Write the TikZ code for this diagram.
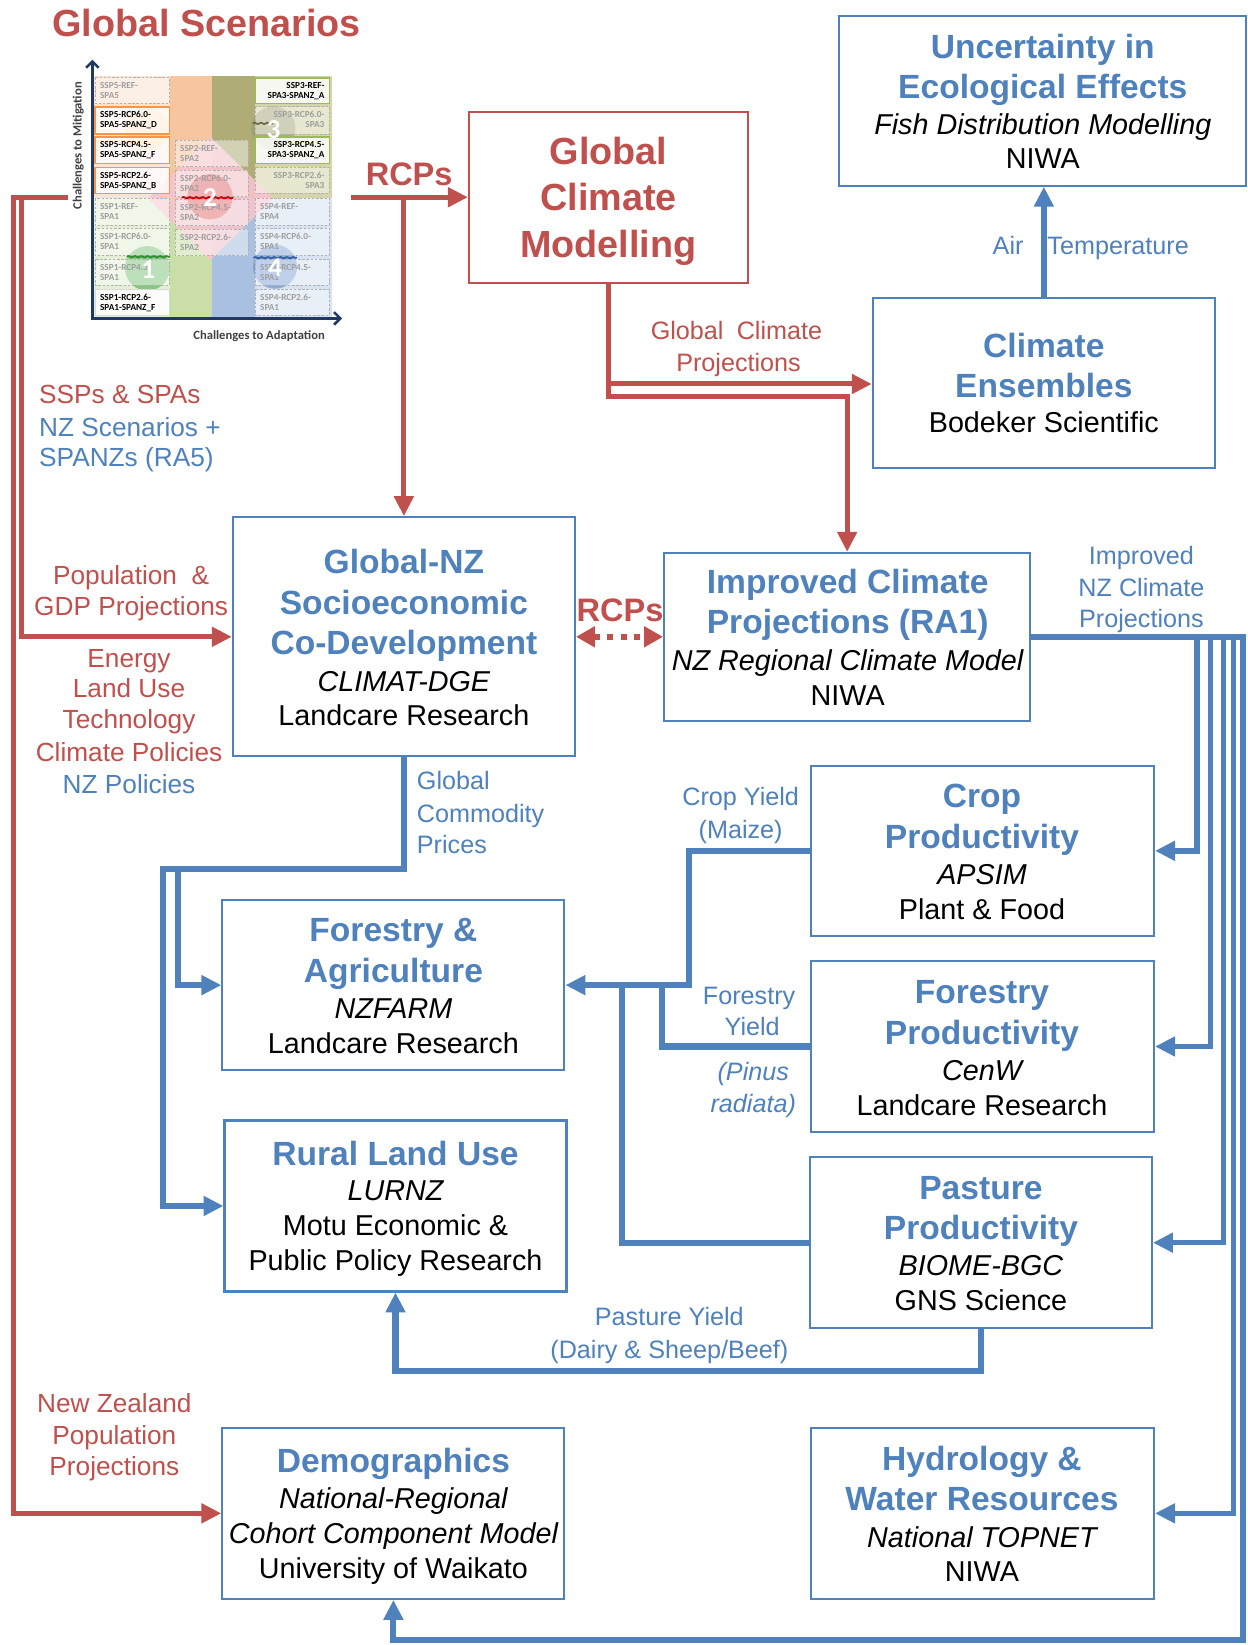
\documentclass[tikz,border=0pt]{standalone}
\usepackage{fontspec}
\setmainfont{Liberation Sans}
\newfontfamily\calib{Carlito}
\usetikzlibrary{arrows.meta,fit,decorations.pathmorphing}
\definecolor{nzb}{HTML}{4F81BD}
\definecolor{nzr}{HTML}{C0504D}
\definecolor{mpeach}{HTML}{FBE3D2}
\definecolor{morng}{HTML}{F6C6A0}
\definecolor{molivl}{HTML}{D6D4AA}
\definecolor{moliv}{HTML}{B0AC76}
\definecolor{mgrnl}{HTML}{E5EFD6}
\definecolor{mgrnd}{HTML}{CADFA8}
\definecolor{mblul}{HTML}{D8E2F1}
\definecolor{mblud}{HTML}{A9C0E0}
\definecolor{mpink}{HTML}{F8C3CD}
\definecolor{mnavy}{HTML}{1F3864}
\definecolor{morb}{HTML}{F79646}
\definecolor{mgrb}{HTML}{9BBB59}
\definecolor{cfive}{HTML}{FAC35A}
\definecolor{cone}{HTML}{67BC66}
\definecolor{ctwo}{HTML}{E05D60}
\definecolor{cthree}{HTML}{9C9A74}
\definecolor{cfour}{HTML}{6F93D0}
\definecolor{wone}{HTML}{2E8B2E}
\definecolor{wthree}{HTML}{6B6A3A}
\definecolor{wfour}{HTML}{2F5DAA}
\newcommand\cellL[9]{%
  \draw[#1] (#2,#3) rectangle (#4,#5);
  \node[ct,#6,anchor=base west] (#9a) at ({#2+14},{#3+33}) {#7};
  \node[ct,#6,anchor=base west] (#9b) at ({#2+14},{#3+63}) {#8};}
\newcommand\cellR[9]{%
  \draw[#1] (#2,#3) rectangle (#4,#5);
  \node[ct,#6,anchor=base east] (#9a) at ({#4-14},{#3+33}) {#7};
  \node[ct,#6,anchor=base east] (#9b) at ({#4-14},{#3+63}) {#8};}
\begin{document}
\begin{tikzpicture}[x=0.5pt,y=-0.5pt,
  bx/.style={draw=nzb,line width=1pt,inner sep=0pt},
  rbx/.style={draw=nzr,line width=1pt,inner sep=0pt},
  ttl/.style={font=\fontsize{16}{19}\selectfont\bfseries,text=nzb,anchor=base,inner sep=0pt},
  rttl/.style={font=\fontsize{18}{22}\selectfont\bfseries,text=nzr,anchor=base,inner sep=0pt},
  itl/.style={font=\fontsize{13.7}{16}\selectfont\itshape,anchor=base,inner sep=0pt},
  reg/.style={font=\fontsize{13.7}{16}\selectfont,anchor=base,inner sep=0pt},
  lbl/.style={font=\fontsize{12}{14}\selectfont,anchor=base,inner sep=0pt},
  lblb/.style={lbl,text=nzb},
  lblr/.style={lbl,text=nzr},
  llb/.style={font=\fontsize{12.5}{14}\selectfont,anchor=base,inner sep=0pt,text=nzb},
  llr/.style={font=\fontsize{12.5}{14}\selectfont,anchor=base,inner sep=0pt,text=nzr},
  rcps/.style={font=\fontsize{15.5}{18}\selectfont\bfseries,text=nzr,anchor=base,inner sep=0pt},
  bc/.style={draw=nzb,line width=2.9pt},
  bv/.style={draw=nzb,line width=2.6pt},
  rc/.style={draw=nzr,line width=2.4pt},
  arw/.style={-{Triangle[length=9.5pt,width=9pt]}},
  ct/.style={font=\calib\fontsize{4.4}{5}\selectfont\bfseries,inner sep=0pt},
  fd/.style={text=black!38},
  bk/.style={text=black},
  fcell/.style={draw=black!30,dash pattern=on 1.2pt off 0.8pt,line width=0.5pt,fill=white,fill opacity=0.45},
  ocell/.style={draw=morb,line width=0.8pt,fill=white,fill opacity=0.8},
  gcell/.style={draw=mgrb,line width=0.8pt,fill=white,fill opacity=0.85},
  wcell/.style={draw=black!15,line width=0.5pt,fill=white,fill opacity=0.9},
  cnum/.style={font=\calib\fontsize{13}{13}\selectfont\bfseries,text=white,inner sep=0pt},
  wav/.style={decorate,decoration={snake,amplitude=0.35pt,segment length=3pt},line width=0.8pt},
 ]
\fill[white] (0,0) rectangle (1189,1568);
\useasboundingbox (0,0) rectangle (1189,1568);

% ---------- scenario matrix ----------
\node[rttl] (gst) at (197,35) {Global Scenarios};
\begin{scope}[shift={(57.21,52.44)},scale=0.31783]
 \fill[mpeach] (100,62) rectangle (455,430);
 \fill[morng] (330,62) rectangle (455,430);
 \fill[molivl] (455,62) rectangle (815,430);
 \fill[moliv] (455,62) rectangle (585,430);
 \fill[mgrnl] (100,430) rectangle (455,785);
 \fill[mgrnd] (330,430) rectangle (455,785);
 \fill[mblul] (455,430) rectangle (815,785);
 \fill[mblud] (455,430) rectangle (585,785);
 \fill[mpink,opacity=0.9] (450,245) -- (640,430) -- (450,615) -- (265,430) -- cycle;
 \fill[cfive,opacity=0.55] (262,222) circle (66);
 \fill[cone,opacity=0.75] (262,640) circle (67);
 \fill[ctwo,opacity=0.75] (450,425) circle (68);
 \fill[cthree,opacity=0.7] (640,220) circle (66);
 \fill[cfour,opacity=0.7] (645,635) circle (66);
 % left column
 \cellL{fcell}{105}{68}{328}{145}{fd}{SSP5-REF-}{SPA5}{cl1}
 \cellL{ocell}{105}{155}{328}{237}{bk}{SSP5-RCP6.0-}{SPA5-SPANZ\_D}{cl2}
 \cellL{ocell}{105}{245}{328}{325}{bk}{SSP5-RCP4.5-}{SPA5-SPANZ\_F}{cl3}
 \cellL{ocell}{105}{337}{328}{415}{bk}{SSP5-RCP2.6-}{SPA5-SPANZ\_B}{cl4}
 \cellL{fcell}{105}{430}{328}{510}{fd}{SSP1-REF-}{SPA1}{cl5}
 \cellL{fcell}{105}{520}{328}{600}{fd}{SSP1-RCP6.0-}{SPA1}{cl6}
 \cellL{fcell}{105}{612}{328}{690}{fd}{SSP1-RCP4.5-}{SPA1}{cl7}
 \cellL{wcell}{105}{702}{328}{780}{bk}{SSP1-RCP2.6-}{SPA1-SPANZ\_F}{cl8}
 % middle column
 \cellL{fcell}{345}{255}{565}{335}{fd}{SSP2-REF-}{SPA2}{cm1}
 \cellL{fcell}{345}{345}{565}{425}{fd}{SSP2-RCP6.0-}{SPA2}{cm2}
 \cellL{fcell}{345}{432}{565}{512}{fd}{SSP2-RCP4.5-}{SPA2}{cm3}
 \cellL{fcell}{345}{522}{565}{602}{fd}{SSP2-RCP2.6-}{SPA2}{cm4}
 % right column
 \cellR{gcell}{585}{68}{808}{145}{bk}{SSP3-REF-}{SPA3-SPANZ\_A}{cr1}
 \cellR{fcell}{585}{155}{808}{237}{fd}{SSP3-RCP6.0-}{SPA3}{cr2}
 \cellR{gcell}{585}{245}{808}{325}{bk}{SSP3-RCP4.5-}{SPA3-SPANZ\_A}{cr3}
 \cellR{fcell}{585}{337}{808}{415}{fd}{SSP3-RCP2.6-}{SPA3}{cr4}
 \cellL{fcell}{585}{430}{808}{510}{fd}{SSP4-REF-}{SPA4}{cr5}
 \cellL{fcell}{585}{520}{808}{600}{fd}{SSP4-RCP6.0-}{SPA1}{cr6}
 \cellL{fcell}{585}{612}{808}{690}{fd}{SSP4-RCP4.5-}{SPA1}{cr7}
 \cellL{fcell}{585}{702}{808}{780}{fd}{SSP4-RCP2.6-}{SPA1}{cr8}
 % numbers and waves
 \draw[wav,draw=wone] (200,605) -- (330,605);
 \draw[wav,draw=red!80!black] (365,428) -- (520,428);
 \draw[wav,draw=wthree] (578,205) -- (640,205);
 \draw[wav,draw=wfour] (580,608) -- (710,608);
 \node[cnum] (n1) at (265,643) {1};
 \node[cnum] (n2) at (450,428) {2};
 \node[cnum] (n3) at (640,225) {3};
 \node[cnum] (n4) at (645,638) {4};
 % axes
 \draw[mnavy,line width=1.2pt,{Straight Barb[length=3pt,width=6pt]}-{Straight Barb[length=3pt,width=6pt]}] (97,14) -- (97,790) -- (846,790);
 \node[font=\calib\fontsize{6}{7}\selectfont\bfseries,text=black!75,rotate=90] (mty) at (55,272) {Challenges to Mitigation};
 \node[font=\calib\fontsize{6}{7}\selectfont\bfseries,text=black!75] (mtx) at (597,842) {Challenges to Adaptation};
\end{scope}

% ---------- boxes ----------
\node[rbx,fit={(447,107)(713,270)}] (gcm) {};
\node[bx,fit={(800,15)(1188,177)}] (unc) {};
\node[bx,fit={(832,284)(1158,446)}] (ens) {};
\node[bx,fit={(222,493)(548,721)}] (gnz) {};
\node[bx,fit={(633,527)(982,687)}] (imp) {};
\node[bx,fit={(773,730)(1100,892)}] (crop) {};
\node[bx,fit={(773,916)(1100,1079)}] (forest) {};
\node[bx,fit={(772,1103)(1098,1266)}] (past) {};
\node[bx,fit={(773,1361)(1100,1524)}] (hydro) {};
\node[bx,fit={(212,858)(538,1020)}] (fa) {};
\node[bx,fit={(214,1068)(540,1231)}] (rural) {};
\node[bx,fit={(212,1361)(538,1524)}] (demo) {};

% ---------- box texts ----------
\node[rttl] (gcm1) at (580,157) {Global};
\node[rttl] (gcm2) at (580,201) {Climate};
\node[rttl] (gcm3) at (580,245) {Modelling};

\node[ttl] (unc1) at (994,55.5) {Uncertainty in};
\node[ttl] (unc2) at (994,93.5) {Ecological Effects};
\node[itl] (unc3) at (994,128) {Fish Distribution Modelling};
\node[reg] (unc4) at (994,161) {NIWA};

\node[ttl] (ens1) at (995,340.5) {Climate};
\node[ttl] (ens2) at (995,378.5) {Ensembles};
\node[reg] (ens3) at (995,412) {Bodeker Scientific};

\node[ttl] (gnz1) at (385,546.5) {Global-NZ};
\node[ttl] (gnz2) at (385,585.5) {Socioeconomic};
\node[ttl] (gnz3) at (385,623.5) {Co-Development};
\node[itl] (gnz4) at (385,659) {CLIMAT-DGE};
\node[reg] (gnz5) at (385,692) {Landcare Research};

\node[ttl] (imp1) at (808,565.5) {Improved Climate};
\node[ttl] (imp2) at (808,603.5) {Projections (RA1)};
\node[itl] (imp3) at (808,639) {NZ Regional Climate Model};
\node[reg] (imp4) at (808,672) {NIWA};

\node[ttl] (crop1) at (936,769.5) {Crop};
\node[ttl] (crop2) at (936,808.5) {Productivity};
\node[itl] (crop3) at (936,843) {APSIM};
\node[reg] (crop4) at (936,876) {Plant \& Food};

\node[ttl] (for1) at (936,956.5) {Forestry};
\node[ttl] (for2) at (936,995.5) {Productivity};
\node[itl] (for3) at (936,1030) {CenW};
\node[reg] (for4) at (936,1063) {Landcare Research};

\node[ttl] (pas1) at (935,1143.5) {Pasture};
\node[ttl] (pas2) at (935,1181.5) {Productivity};
\node[itl] (pas3) at (935,1216) {BIOME-BGC};
\node[reg] (pas4) at (935,1249) {GNS Science};

\node[ttl] (hyd1) at (936,1401.5) {Hydrology \&};
\node[ttl] (hyd2) at (936,1439.5) {Water Resources};
\node[itl] (hyd3) at (936,1475) {National TOPNET};
\node[reg] (hyd4) at (936,1507) {NIWA};

\node[ttl] (fa1) at (375,897.5) {Forestry \&};
\node[ttl] (fa2) at (375,936.5) {Agriculture};
\node[itl] (fa3) at (375,971) {NZFARM};
\node[reg] (fa4) at (375,1004) {Landcare Research};

\node[ttl] (rur1) at (377,1110.5) {Rural Land Use};
\node[itl] (rur2) at (377,1144) {LURNZ};
\node[reg] (rur3) at (377,1178) {Motu Economic \&};
\node[reg] (rur4) at (377,1211) {Public Policy Research};

\node[ttl] (dem1) at (375,1403.5) {Demographics};
\node[itl] (dem2) at (375,1438) {National-Regional};
\node[itl] (dem3) at (375,1471) {Cohort Component Model};
\node[reg] (dem4) at (375,1505) {University of Waikato};

% ---------- connectors ----------
\coordinate (rl0) at (65,188);
\coordinate (rlo) at (12.7,188);
\coordinate (rli) at (20.9,188);
\draw[rc,arw] (rl0) -- (rlo) |- (demo.west);
\draw[rc,arw] (rli) |- (gnz.west);

\coordinate (rc0) at (335,188);
\coordinate (rc1) at (385,188);
\draw[rc,arw] (rc0) -- (gcm.west |- rc0);
\draw[rc,arw] (rc1) -- (gnz.north);

\coordinate (g1) at (580,378);
\coordinate (g2) at (580,366);
\draw[rc,arw] (gcm.south) -- (g1) -| (imp.north);
\draw[rc,arw] (g2) -- (g2 -| ens.west);

\draw[bc,arw] (ens.north) -- (ens.north |- unc.south);

\draw[nzr,line width=3pt,dash pattern=on 3pt off 3.4pt,{Triangle[length=9pt,width=9.5pt]}-{Triangle[length=9pt,width=9.5pt]}] (gnz.east) -- (imp.west);

\coordinate (bE) at (1184.5,607);
\coordinate (bC) at (1141,607);
\coordinate (bF) at (1154,607);
\coordinate (bP) at (1166,607);
\coordinate (bH) at (1176,607);
\coordinate (bD) at (1184.5,1563);
\draw[bv,arw] (bC) |- (crop.east);
\draw[bv,arw] (bF) |- (forest.east);
\draw[bv,arw] (bP) |- (past.east);
\draw[bv,arw] (bH) |- (hydro.east);
\draw[bc,arw] (imp.east) -- (bE) -- (bD) -| (demo.south);

\coordinate (jc) at (657,811);
\coordinate (jf) at (631,939);
\coordinate (jp) at (593,939);
\draw[bc,arw] (crop.west) -- (jc) |- (fa.east);
\draw[bc] (forest.west) -| (jf);
\draw[bc] (past.west) -| (jp);

\coordinate (k1) at (385,828);
\coordinate (k2) at (155,828);
\coordinate (k3) at (170,828);
\draw[bc,arw] (gnz.south) -- (k1) -- (k2) |- (rural.west);
\draw[bc,arw] (k3) |- (fa.west);

\coordinate (p1) at (935,1307);
\draw[bc,arw] (past.south) -- (p1) -| (rural.south);

% ---------- labels ----------
\node[rcps] (rcp1) at (390,177) {RCPs};
\node[rcps] (rcp2) at (591,592) {RCPs};
\node[lblr] (gcp1) at (702,324) {Global\hspace{3pt} Climate};
\node[lblr] (gcp2) at (704,354) {Projections};
\node[lblb,anchor=base east] (air1) at (976,243) {Air};
\node[lblb,anchor=base west] (air2) at (998,243) {Temperature};
\node[lblb] (inz1) at (1088,538) {Improved};
\node[lblb] (inz2) at (1088,569) {NZ Climate};
\node[lblb] (inz3) at (1088,598) {Projections};
\node[lblb,anchor=base west] (gcpr1) at (397,753) {Global};
\node[lblb,anchor=base west] (gcpr2) at (397,784) {Commodity};
\node[lblb,anchor=base west] (gcpr3) at (397,814) {Prices};
\node[lblb] (cy1) at (706,768) {Crop Yield};
\node[lblb] (cy2) at (706,799) {(Maize)};
\node[lblb] (fy1) at (714,957) {Forestry};
\node[lblb] (fy2) at (717,987) {Yield};
\node[lblb,font=\fontsize{12}{14}\selectfont\itshape] (fy3) at (718,1030) {(Pinus};
\node[lblb,font=\fontsize{12}{14}\selectfont\itshape] (fy4) at (718,1060) {radiata)};
\node[lblb] (py1) at (638,1263) {Pasture Yield};
\node[lblb] (py2) at (638,1295) {(Dairy \& Sheep/Beef)};
\node[llr,anchor=base west] (ss1) at (37,385) {SSPs \& SPAs};
\node[llb,anchor=base west] (ss2) at (37,416) {NZ Scenarios +};
\node[llb,anchor=base west] (ss3) at (37,445) {SPANZs (RA5)};
\node[llr] (pg1) at (125,557) {Population\ \ \&};
\node[llr] (pg2) at (125,587) {GDP Projections};
\node[llr] (en1) at (123,636) {Energy};
\node[llr] (en2) at (123,665) {Land Use};
\node[llr] (en3) at (123,694.5) {Technology};
\node[llr] (en4) at (123,725.6) {Climate Policies};
\node[llb] (en5) at (123,756.6) {NZ Policies};
\node[llr] (nzp1) at (109,1346) {New Zealand};
\node[llr] (nzp2) at (109,1377) {Population};
\node[llr] (nzp3) at (109,1406.5) {Projections};
\end{tikzpicture}
\end{document}
